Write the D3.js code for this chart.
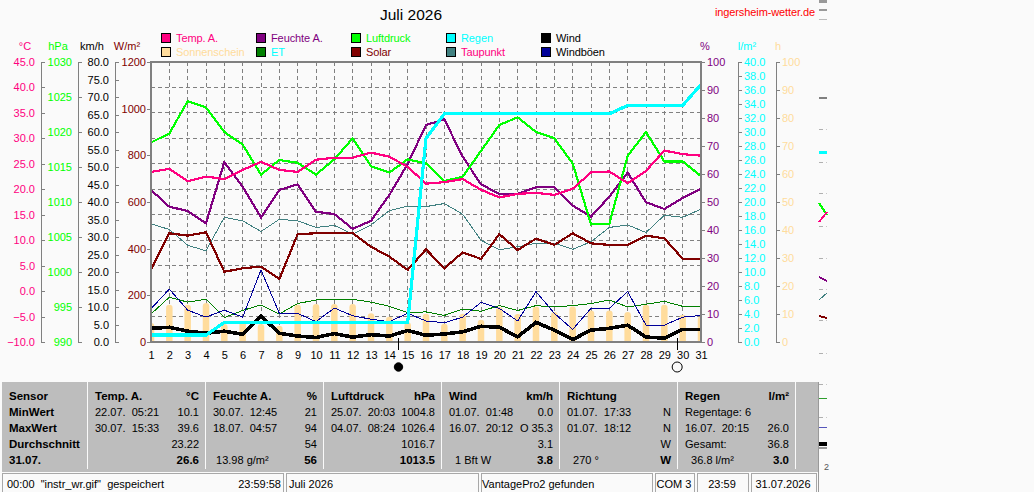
<!DOCTYPE html>
<html>
<head>
<meta charset="utf-8">
<script src="https://cdn.jsdelivr.net/npm/d3@7/dist/d3.min.js"></script>
<style>
    html, body { margin: 0; padding: 0; background: #fafafa; overflow: hidden; }
    svg { display: block; }
    text { font-family: "Liberation Sans", Arial, sans-serif; font-size: 11px; white-space: pre; }
    .axis path, .axis line { stroke: #808080; }
    .axis text { font-size: 11px; font-family: "Liberation Sans", Arial, sans-serif; }
    .narrow { letter-spacing: -0.1px; }
    .mark { fill: none; shape-rendering: crispEdges; stroke-linejoin: miter; }
</style>
</head>
<body>
<svg id="chart" width="1034" height="492"></svg>
<script>
const days = d3.range(1, 32);

const tempA = [23.4, 24.0, 21.6, 22.5, 22.0, 23.8, 25.4, 23.8, 23.4, 25.8, 26.2, 26.2, 27.2, 26.4, 24.4, 21.1, 21.4, 22.0, 19.9, 18.4, 19.1, 19.3, 18.9, 20.1, 23.3, 23.5, 21.2, 23.6, 27.6, 26.9, 26.6];
const feuchteA = [54.3, 48.3, 46.8, 42.4, 64.2, 55.4, 44.5, 54.3, 56.3, 46.5, 45.7, 40.4, 43.3, 52.5, 63.6, 77.5, 79.5, 66.2, 56.3, 52.9, 52.9, 55.3, 55.4, 48.7, 44.8, 51.9, 60.5, 49.9, 47.5, 51.4, 54.8];
const luftdruck = [1018.5, 1019.8, 1024.4, 1023.5, 1020.0, 1018.2, 1013.9, 1016.0, 1015.6, 1013.9, 1016.1, 1019.1, 1015.1, 1014.2, 1016.1, 1015.5, 1013.0, 1013.6, 1017.3, 1021.0, 1022.1, 1020.0, 1019.1, 1015.5, 1006.8, 1006.9, 1016.6, 1020.0, 1015.8, 1015.8, 1013.7];
const regen = [1.0, 1.0, 1.0, 1.0, 2.8, 2.8, 2.8, 2.8, 2.8, 2.8, 2.8, 2.8, 2.8, 2.8, 2.8, 29.1, 32.6, 32.6, 32.6, 32.6, 32.6, 32.6, 32.6, 32.6, 32.6, 32.6, 33.8, 33.8, 33.8, 33.8, 36.8];
const wind = [3.9, 4.2, 3.1, 2.5, 3.1, 2.2, 7.4, 2.5, 1.7, 1.3, 2.4, 1.4, 2.1, 1.7, 3.3, 1.9, 2.3, 2.9, 4.5, 4.2, 1.5, 5.6, 3.4, 0.7, 3.4, 3.9, 4.8, 1.4, 1.1, 3.6, 3.6];
const windboeen = [9.5, 15.1, 9.1, 7.1, 9.1, 7.1, 20.6, 8.2, 8.2, 5.8, 9.7, 7.5, 6.5, 5.8, 8.2, 6.0, 5.5, 7.1, 11.3, 9.6, 6.0, 14.4, 8.2, 3.6, 9.6, 9.6, 14.4, 4.8, 4.8, 7.1, 7.6];
const sonnenschein = [6.7, 13.2, 13.2, 13.8, 6.3, 7.2, 6.3, 5.7, 13.2, 13.5, 13.5, 13.5, 10.2, 8.9, 7.0, 10.0, 6.4, 10.0, 7.9, 12.4, 9.9, 12.6, 10.6, 12.6, 11.2, 11.2, 10.6, 13.2, 13.2, 9.6, 9.0];
const et = [4.0, 6.4, 5.7, 6.1, 3.5, 4.5, 5.3, 4.0, 5.5, 6.0, 6.1, 6.1, 5.7, 5.1, 4.2, 4.3, 3.8, 4.7, 4.4, 5.2, 4.5, 5.2, 5.0, 5.2, 5.5, 6.0, 5.0, 5.4, 5.8, 5.1, 5.0];
const solar = [309, 466, 456, 470, 301, 316, 323, 270, 462, 466, 467, 467, 408, 366, 309, 397, 316, 384, 356, 462, 394, 443, 416, 466, 423, 416, 416, 456, 444, 357, 357];
const taupunkt = [13.2, 12.1, 9.0, 7.9, 14.5, 13.8, 11.7, 14.1, 13.8, 12.5, 12.9, 11.2, 13.0, 15.8, 16.7, 16.6, 17.2, 15.1, 10.0, 8.1, 8.7, 9.4, 9.4, 8.2, 9.7, 12.5, 13.0, 11.5, 14.9, 14.5, 16.1];

const legendNames = [["Temp. A.", "Sonnenschein"], ["Feuchte A.", "ET"], ["Luftdruck", "Solar"], ["Regen", "Taupunkt"], ["Wind", "Windböen"]];
const legendSwatches = [["#ff0080", "#ffdc9c"], ["#800080", "#008000"], ["#00ff00", "#800000"], ["#00ffff", "#408080"], ["#000000", "#000099"]];
const legendTexts = [["#ff0080", "#ffdc9c"], ["#800080", "#00ffff"], ["#00ff00", "#800000"], ["#00ffff", "#ff0080"], ["#000000", "#000000"]];

const tempTicks = d3.range(-10, 46, 5);
const hpaTicks = d3.range(990, 1031, 5);
const kmhTicks = d3.range(0, 81, 5);
const wattTicks = d3.range(0, 1201, 200);
const percentTicks = d3.range(0, 101, 10);
const rainTicks = d3.range(0, 41, 2);
const hourTicks = d3.range(0, 101, 10);

const tableColumns = [
    { head: "Temp. A.", unit: "°C", dates: ["22.07.  05:21", "30.07.  15:33", "", ""], values: ["10.1", "39.6", "23.22", "26.6"], note: "" },
    { head: "Feuchte A.", unit: "%", dates: ["30.07.  12:45", "18.07.  04:57", "", ""], values: ["21", "94", "54", "56"], note: " 13.98 g/m²" },
    { head: "Luftdruck", unit: "hPa", dates: ["25.07.  20:03", "04.07.  08:24", "", ""], values: ["1004.8", "1026.4", "1016.7", "1013.5"], note: "" },
    { head: "Wind", unit: "km/h", dates: ["01.07.  01:48", "16.07.  20:12", "", ""], values: ["0.0", "O 35.3", "3.1", "3.8"], note: "  1 Bft W" },
    { head: "Richtung", unit: "", dates: ["01.07.  17:33", "01.07.  18:12", "", ""], values: ["N", "N", "W", "W"], note: "  270 °" },
    { head: "Regen", unit: "l/m²", dates: ["Regentage: 6", "16.07.  20:15", "Gesamt:", ""], values: ["", "26.0", "36.8", "3.0"], note: "  36.8 l/m²" }
];
const rowNames = ["Sensor", "MinWert", "MaxWert", "Durchschnitt", "31.07."];

const svg = d3.select("#chart");
const plotLeft = 151, plotRight = 701, plotTop = 62, plotBottom = 342;

const x = d3.scaleLinear().domain([1, 31]).range([plotLeft, plotRight]);
const yTemp = d3.scaleLinear().domain([-10, 45]).range([plotBottom, plotTop]);
const yHpa = d3.scaleLinear().domain([990, 1030]).range([plotBottom, plotTop]);
const yKmh = d3.scaleLinear().domain([0, 80]).range([plotBottom, plotTop]);
const yWatt = d3.scaleLinear().domain([0, 1200]).range([plotBottom, plotTop]);
const yPercent = d3.scaleLinear().domain([0, 100]).range([plotBottom, plotTop]);
const yRain = d3.scaleLinear().domain([0, 40]).range([plotBottom, plotTop]);
const yHour = d3.scaleLinear().domain([0, 100]).range([plotBottom, plotTop]);

svg.append("defs").append("clipPath").attr("id", "plotClip")
    .append("rect").attr("x", plotLeft).attr("y", plotTop).attr("width", plotRight - plotLeft).attr("height", plotBottom - plotTop);

// title
svg.append("text").attr("x", 411).attr("y", 20).attr("text-anchor", "middle").style("font-size", "15.5px").text("Juli 2026");
svg.append("text").attr("class", "narrow").attr("x", 815).attr("y", 16).attr("text-anchor", "end").attr("fill", "#ff0000").text("ingersheim-wetter.de");

// legend
const legendX = d3.scalePoint().domain(d3.range(5)).range([161, 541]);
const legendY = d3.scalePoint().domain([0, 1]).range([33, 47]);
legendNames.forEach((col, i) => {
    col.forEach((name, j) => {
        svg.append("rect")
            .attr("x", legendX(i) + 0.5).attr("y", legendY(j) + 0.5)
            .attr("width", 9).attr("height", 9)
            .attr("fill", legendSwatches[i][j]).attr("stroke", "#000");
        svg.append("text").attr("class", "narrow")
            .attr("x", legendX(i) + 15).attr("y", legendY(j) + 9)
            .attr("fill", legendTexts[i][j]).text(name);
    });
});

// grid
const grid = svg.append("g").attr("stroke", "#808080").attr("stroke-dasharray", "4 3").attr("shape-rendering", "crispEdges");
grid.selectAll(".h").data(tempTicks.slice(1, -1)).enter().append("line")
    .attr("x1", plotLeft).attr("x2", plotRight).attr("y1", d => yTemp(d)).attr("y2", d => yTemp(d));
grid.selectAll(".v").data(days.slice(1, -1)).enter().append("line")
    .attr("x1", d => x(d)).attr("x2", d => x(d)).attr("y1", plotTop).attr("y2", plotBottom);

// axes
function drawAxis(axis, xPos, color, ticks, fmt, title, titleX) {
    const g = svg.append("g").attr("class", "axis")
        .attr("transform", "translate(" + xPos + ",0)")
        .attr("shape-rendering", "crispEdges")
        .call(axis.tickValues(ticks).tickFormat(fmt).tickSizeOuter(0));
    g.selectAll("text").attr("fill", color);
    svg.append("text").attr("x", titleX).attr("y", 50).attr("text-anchor", "middle").attr("fill", color).text(title);
    return g;
}
const oneDec = d3.format(".1f");
const plain = d3.format("d");

function tickRight(scale) { return d3.axisRight(scale).tickSize(4).tickPadding(2); }
drawAxis(tickRight(yTemp), 41, "#ff0080", tempTicks, oneDec, "°C", 25).selectAll("text").attr("x", -6).attr("text-anchor", "end");
drawAxis(tickRight(yHpa), 78, "#00ff00", hpaTicks, plain, "hPa", 58).selectAll("text").attr("x", -6).attr("text-anchor", "end");
drawAxis(tickRight(yKmh), 115, "#000000", kmhTicks, oneDec, "km/h", 92).selectAll("text").attr("x", -6).attr("text-anchor", "end");
drawAxis(d3.axisLeft(yWatt).tickSize(4).tickPadding(1), 151, "#800000", wattTicks, plain, "W/m²", 127);
drawAxis(d3.axisRight(yPercent).tickSize(4).tickPadding(2), 701, "#800080", percentTicks, plain, "%", 705);
drawAxis(tickRight(yRain), 738, "#00ffff", rainTicks, oneDec, "l/m²", 747);
drawAxis(tickRight(yHour), 776, "#ffdc9c", hourTicks, plain, "h", 778);

const xAxis = svg.append("g").attr("class", "axis")
    .attr("transform", "translate(0," + plotBottom + ")")
    .call(d3.axisBottom(x).tickValues(days).tickFormat(plain).tickSize(0).tickPadding(9));
xAxis.select("path").remove();
xAxis.selectAll("text").attr("fill", "#000");

// sunshine bars
svg.append("g").attr("clip-path", "url(#plotClip)")
    .selectAll("line").data(sonnenschein).enter().append("line")
    .attr("x1", (d, i) => x(days[i])).attr("x2", (d, i) => x(days[i]))
    .attr("y1", plotBottom + 3).attr("y2", d => yHour(d) + 3)
    .attr("stroke", "#ffdc9c").attr("stroke-width", 6.5).attr("stroke-linecap", "round");

// lines
function drawLine(values, scale, color, width) {
    const line = d3.line().x((d, i) => x(days[i])).y(d => scale(d));
    svg.append("path").attr("class", "mark").attr("d", line(values))
        .attr("stroke", color).attr("stroke-width", width);
}
drawLine(taupunkt, yTemp, "#408080", 1);
drawLine(et, yRain, "#008000", 1);
drawLine(windboeen, yKmh, "#000099", 1);
drawLine(wind, yKmh, "#000000", 3.6);
drawLine(solar, yWatt, "#800000", 2.2);
drawLine(feuchteA, yPercent, "#800080", 2.2);
drawLine(luftdruck, yHpa, "#00ff00", 2.2);
drawLine(tempA, yTemp, "#ff0080", 2.2);
drawLine(regen, yRain, "#00ffff", 3.2);

// frame
svg.append("rect").attr("x", plotLeft).attr("y", plotTop).attr("width", plotRight - plotLeft).attr("height", plotBottom - plotTop)
    .attr("fill", "none").attr("stroke", "#808080").attr("stroke-width", 2).attr("shape-rendering", "crispEdges");

// moon phases
const moons = [{ day: 14.5, fill: "#000", r: 4.2 }, { day: 29.7, fill: "none", r: 5 }];
moons.forEach(m => {
    svg.append("line").attr("x1", x(m.day)).attr("x2", x(m.day)).attr("y1", plotBottom - 4).attr("y2", plotBottom + 8)
        .attr("stroke", "#000").attr("shape-rendering", "crispEdges");
    svg.append("circle").attr("cx", x(m.day)).attr("cy", 367).attr("r", m.r)
        .attr("fill", m.fill).attr("stroke", "#000");
});

// table
const tableTop = 382, tableBottom = 472;
svg.append("rect").attr("x", 2).attr("y", tableTop).attr("width", 816).attr("height", tableBottom - tableTop).attr("fill", "#bdbdbd");
const separators = [87, 205, 323, 441, 559, 677, 795];
separators.forEach(s => {
    svg.append("rect").attr("x", s).attr("y", tableTop).attr("width", 1).attr("height", tableBottom - tableTop - 3).attr("fill", "#fafafa");
});
const rowY = d3.scalePoint().domain(d3.range(5)).range([400, 464]);
rowNames.forEach((r, i) => {
    svg.append("text").attr("x", 9).attr("y", rowY(i)).attr("font-weight", "bold").style("font-size", "11.5px").text(r);
});
tableColumns.forEach((c, i) => {
    const x0 = separators[i] + 8, x1 = separators[i + 1] - 6;
    svg.append("text").attr("x", x0).attr("y", rowY(0)).attr("font-weight", "bold").style("font-size", "11.5px").text(c.head);
    svg.append("text").attr("x", x1).attr("y", rowY(0)).attr("font-weight", "bold").style("font-size", "11.5px").attr("text-anchor", "end").text(c.unit);
    c.dates.forEach((d, j) => svg.append("text").attr("x", x0).attr("y", rowY(j + 1)).text(d));
    c.values.forEach((v, j) => svg.append("text").attr("x", x1).attr("y", rowY(j + 1))
        .attr("text-anchor", "end").attr("font-weight", j === 3 ? "bold" : null).style("font-size", j === 3 ? "11.5px" : null).text(v));
    svg.append("text").attr("x", x0).attr("y", rowY(4)).text(c.note);
});

// status bar
const statusCells = [[2, 283], [286, 478], [481, 652], [655, 694], [697, 748], [751, 816]];
statusCells.forEach(c => {
    svg.append("rect").attr("x", c[0]).attr("y", 473).attr("width", c[1] - c[0]).attr("height", 21)
        .attr("fill", "#fafafa").attr("stroke", "#a8a8a8").attr("stroke-width", 1).attr("shape-rendering", "crispEdges");
});
svg.append("text").attr("x", 7).attr("y", 488).text('00:00  "instr_wr.gif"  gespeichert');
svg.append("text").attr("x", 281).attr("y", 488).attr("text-anchor", "end").text("23:59:58");
svg.append("text").attr("x", 289).attr("y", 488).text("Juli 2026");
svg.append("text").attr("x", 482).attr("y", 488).text("VantagePro2 gefunden");
svg.append("text").attr("x", 674).attr("y", 488).attr("text-anchor", "middle").text("COM 3");
svg.append("text").attr("x", 722).attr("y", 488).attr("text-anchor", "middle").text("23:59");
svg.append("text").attr("x", 783).attr("y", 488).attr("text-anchor", "middle").text("31.07.2026");
svg.append("rect").attr("x", 818).attr("y", tableTop).attr("width", 1).attr("height", 110).attr("fill", "#999");

// leftover sliver of an older window, right of the panel
const sliverDashes = [129, 162, 193, 226, 258, 289, 320, 353, 384, 417];
sliverDashes.forEach(y => {
    svg.append("rect").attr("x", 819).attr("y", y).attr("width", 4).attr("height", 1).attr("fill", "#b0b0b0");
    svg.append("rect").attr("x", 826).attr("y", y).attr("width", 1).attr("height", 1).attr("fill", "#c8c8c8");
});
const sliverBars = [[0, 3, "#999"], [9, 2, "#999"], [19, 1, "#bbb"], [97, 2, "#808080"], [151, 3, "#00ffff"], [398, 1, "#2e9e2e"], [427, 1, "#5555bb"], [442, 4, "#000"], [447, 2, "#999"]];
sliverBars.forEach(b => {
    svg.append("rect").attr("x", 819).attr("y", b[0]).attr("width", 8).attr("height", b[1]).attr("fill", b[2]);
});
const sliverStrokes = [[203, 215, "#00ff00", 2], [222, 212, "#ff0080", 2], [277, 281, "#800080", 2], [300, 293, "#408080", 1], [316, 318, "#800000", 2]];
sliverStrokes.forEach(s => {
    svg.append("line").attr("x1", 819).attr("x2", 827).attr("y1", s[0]).attr("y2", s[1])
        .attr("stroke", s[2]).attr("stroke-width", s[3]).attr("shape-rendering", "crispEdges");
});
svg.append("text").attr("x", 824).attr("y", 470).style("font-size", "9px").attr("fill", "#555").text("2");
</script>
</body>
</html>
